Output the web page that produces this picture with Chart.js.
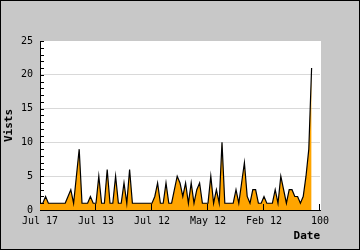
<!DOCTYPE html>
<html>
<head>
<meta charset="utf-8">
<script src="https://cdn.jsdelivr.net/npm/chart.js@4/dist/chart.umd.min.js"></script>
<style>
  html, body { margin: 0; padding: 0; background: #c8c8c8; }
  canvas { display: block; }
</style>
</head>
<body>
<canvas id="myChart" width="360" height="250"></canvas>
<script>
// visits per day, oldest first
const visits = [
    1, 1, 2, 1, 1, 1, 1, 1, 1, 1,
    2, 3, 1, 5, 9, 1, 1, 1, 2, 1,
    1, 5, 1, 1, 6, 1, 1, 5, 1, 1,
    4, 1, 6, 1, 1, 1, 1, 1, 1, 1,
    1, 2, 4, 1, 1, 4, 1, 1, 3, 5,
    4, 2, 4, 1, 4, 1, 3, 4, 1, 1,
    1, 5, 1, 3, 1, 10, 1, 1, 1, 1,
    3, 1, 4, 7, 2, 1, 3, 3, 1, 1,
    2, 1, 1, 1, 3, 1, 5, 3, 1, 3,
    3, 2, 2, 1, 2, 5, 9, 21
];
const xTickLabels = ['Jul 17', 'Jul 13', 'Jul 12', 'May 12', 'Feb 12', '100'];
const yTicks = [0, 5, 10, 15, 20, 25];

const points = visits.map((v, i) => ({ x: i, y: v }));

// grey frame, white plot, small axis marks
const axisMarks = {
    id: 'axisMarks',
    beforeDraw(chart) {
        const { ctx, chartArea: a } = chart;
        ctx.save();
        ctx.fillStyle = '#c8c8c8';
        ctx.fillRect(0, 0, chart.width, chart.height);
        ctx.fillStyle = '#ffffff';
        ctx.fillRect(a.left, a.top, a.right - a.left + 1, a.bottom - a.top);
        ctx.restore();
    },
    afterDraw(chart) {
        const { ctx, chartArea: a, scales } = chart;
        ctx.save();
        ctx.strokeStyle = '#000';
        ctx.lineWidth = 1;
        ctx.beginPath();
        for (let v = 0; v <= 25; v++) {
            const py = Math.round(scales.y.getPixelForValue(v)) + 0.5;
            ctx.moveTo(a.left, py);
            ctx.lineTo(a.left + 4, py);
        }
        scales.x.ticks.forEach(t => {
            if (t.value > 0) {
                const px = Math.round(scales.x.getPixelForValue(t.value)) - 0.5;
                ctx.moveTo(px, a.bottom);
                ctx.lineTo(px, a.bottom - 6);
            }
        });
        ctx.stroke();
        ctx.strokeRect(0.5, 0.5, chart.width - 1, chart.height - 1);
        ctx.restore();
    }
};

const mono = 'DejaVu Sans Mono';

new Chart(document.getElementById('myChart'), {
    type: 'line',
    data: {
        datasets: [{
            data: points,
            borderColor: '#000000',
            borderWidth: 1.2,
            backgroundColor: '#ffa500',
            fill: 'origin',
            pointRadius: 0,
            tension: 0
        }]
    },
    options: {
        responsive: false,
        animation: false,
        devicePixelRatio: 1,
        layout: { padding: { top: 41, right: 40, left: 0, bottom: 0 } },
        plugins: { legend: { display: false }, tooltip: { enabled: false } },
        scales: {
            x: {
                type: 'linear',
                min: 0,
                max: 100,
                afterFit: s => { s.height = 40; },
                grid: { color: 'rgba(0,0,0,0)', drawTicks: false },
                border: { color: '#000', width: 1 },
                ticks: {
                    stepSize: 20,
                    autoSkip: false,
                    maxRotation: 0,
                    padding: 5,
                    color: '#000',
                    font: { family: mono, size: 10 },
                    callback: v => xTickLabels[v / 20]
                },
                title: {
                    display: true,
                    text: 'Date',
                    align: 'end',
                    color: '#000',
                    padding: { top: 0, bottom: 7 },
                    font: { family: mono, size: 11, weight: 'bold' }
                }
            },
            y: {
                min: 0,
                max: 25,
                afterFit: s => { s.width = 40; },
                afterBuildTicks: s => { s.ticks = yTicks.map(v => ({ value: v })); },
                grid: {
                    drawTicks: false,
                    color: c => (c.tick && c.tick.value > 0 && c.tick.value < 25) ? '#d9d9d9' : 'rgba(0,0,0,0)'
                },
                border: { color: '#000', width: 1 },
                ticks: {
                    padding: 7,
                    color: '#000',
                    font: { family: mono, size: 10 }
                },
                title: {
                    display: true,
                    text: 'Vists',
                    color: '#000',
                    padding: { top: 3, bottom: 0 },
                    font: { family: mono, size: 11, weight: 'bold' }
                }
            }
        }
    },
    plugins: [axisMarks]
});
</script>
</body>
</html>
